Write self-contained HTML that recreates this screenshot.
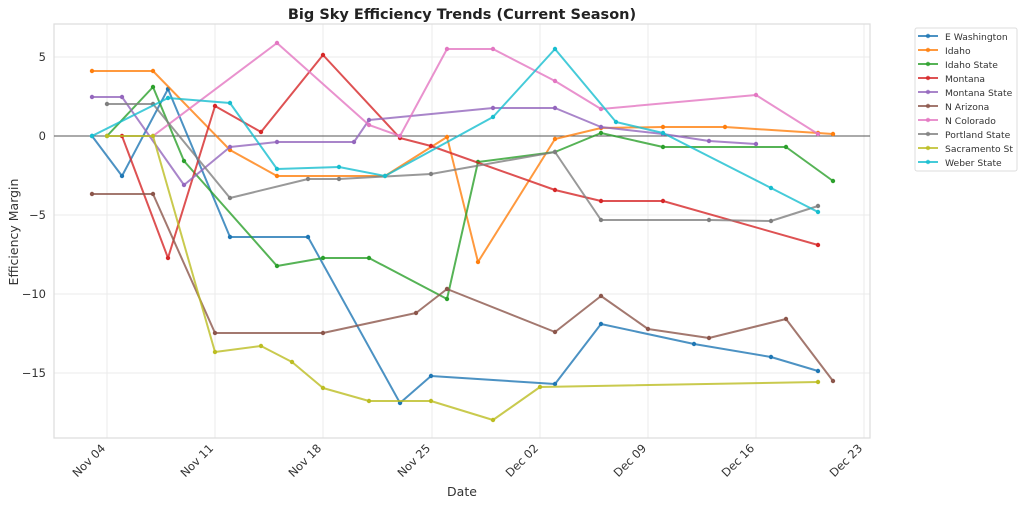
<!DOCTYPE html>
<html><head><meta charset="utf-8"><style>
body{margin:0;background:#fff;}
svg{display:block;font-family:"DejaVu Sans","Liberation Sans",sans-serif;}
</style></head><body>
<svg width="1024" height="506" viewBox="0 0 1024 506" xmlns="http://www.w3.org/2000/svg">
<defs>
<marker id="m0" markerWidth="6" markerHeight="6" refX="3" refY="3" markerUnits="userSpaceOnUse"><circle cx="3" cy="3" r="2.2" fill="#1f77b4"/></marker>
<marker id="m1" markerWidth="6" markerHeight="6" refX="3" refY="3" markerUnits="userSpaceOnUse"><circle cx="3" cy="3" r="2.2" fill="#ff7f0e"/></marker>
<marker id="m2" markerWidth="6" markerHeight="6" refX="3" refY="3" markerUnits="userSpaceOnUse"><circle cx="3" cy="3" r="2.2" fill="#2ca02c"/></marker>
<marker id="m3" markerWidth="6" markerHeight="6" refX="3" refY="3" markerUnits="userSpaceOnUse"><circle cx="3" cy="3" r="2.2" fill="#d62728"/></marker>
<marker id="m4" markerWidth="6" markerHeight="6" refX="3" refY="3" markerUnits="userSpaceOnUse"><circle cx="3" cy="3" r="2.2" fill="#9467bd"/></marker>
<marker id="m5" markerWidth="6" markerHeight="6" refX="3" refY="3" markerUnits="userSpaceOnUse"><circle cx="3" cy="3" r="2.2" fill="#8c564b"/></marker>
<marker id="m6" markerWidth="6" markerHeight="6" refX="3" refY="3" markerUnits="userSpaceOnUse"><circle cx="3" cy="3" r="2.2" fill="#e377c2"/></marker>
<marker id="m7" markerWidth="6" markerHeight="6" refX="3" refY="3" markerUnits="userSpaceOnUse"><circle cx="3" cy="3" r="2.2" fill="#7f7f7f"/></marker>
<marker id="m8" markerWidth="6" markerHeight="6" refX="3" refY="3" markerUnits="userSpaceOnUse"><circle cx="3" cy="3" r="2.2" fill="#bcbd22"/></marker>
<marker id="m9" markerWidth="6" markerHeight="6" refX="3" refY="3" markerUnits="userSpaceOnUse"><circle cx="3" cy="3" r="2.2" fill="#17becf"/></marker>
</defs>
<rect width="1024" height="506" fill="#fff"/>
<g stroke="#ebebeb" stroke-width="1">
<line x1="107" y1="24" x2="107" y2="438"/><line x1="215" y1="24" x2="215" y2="438"/>
<line x1="323" y1="24" x2="323" y2="438"/><line x1="432" y1="24" x2="432" y2="438"/>
<line x1="540" y1="24" x2="540" y2="438"/><line x1="648" y1="24" x2="648" y2="438"/>
<line x1="756" y1="24" x2="756" y2="438"/><line x1="864" y1="24" x2="864" y2="438"/>
<line x1="54" y1="57" x2="870" y2="57"/><line x1="54" y1="215" x2="870" y2="215"/>
<line x1="54" y1="294" x2="870" y2="294"/><line x1="54" y1="373" x2="870" y2="373"/>
</g>
<rect x="54" y="24" width="816" height="414" fill="none" stroke="#dcdcdc" stroke-width="1.2"/>
<line x1="54" y1="136" x2="870" y2="136" stroke="#555" stroke-width="1"/>
<g font-size="11.5" fill="#333" text-anchor="end">
<text x="46" y="61">5</text><text x="46" y="140">0</text><text x="46" y="219">−5</text>
<text x="46" y="298">−10</text><text x="46" y="377">−15</text>
</g>
<g font-size="11.5" fill="#333" text-anchor="end">
<text transform="translate(106,449) rotate(-45)">Nov 04</text>
<text transform="translate(214,449) rotate(-45)">Nov 11</text>
<text transform="translate(322,449) rotate(-45)">Nov 18</text>
<text transform="translate(431,449) rotate(-45)">Nov 25</text>
<text transform="translate(539,449) rotate(-45)">Dec 02</text>
<text transform="translate(647,449) rotate(-45)">Dec 09</text>
<text transform="translate(755,449) rotate(-45)">Dec 16</text>
<text transform="translate(863,449) rotate(-45)">Dec 23</text>
</g>
<text x="462" y="496" font-size="12.5" fill="#333" text-anchor="middle">Date</text>
<text transform="translate(18,232) rotate(-90)" font-size="12.5" fill="#333" text-anchor="middle">Efficiency Margin</text>
<text x="462" y="19" font-size="14.5" font-weight="bold" fill="#222" text-anchor="middle">Big Sky Efficiency Trends (Current Season)</text>
<g fill="none" stroke-width="2" stroke-opacity="0.8" stroke-linejoin="round">
<polyline stroke="#1f77b4" marker-start="url(#m0)" marker-mid="url(#m0)" marker-end="url(#m0)" points="92,136 122,176 168,89 230,237 308,237 400,403 431,376 555,384 601,324 694,344 771,357 818,371"/>
<polyline stroke="#ff7f0e" marker-start="url(#m1)" marker-mid="url(#m1)" marker-end="url(#m1)" points="92,71 153,71 230,150 277,176 385,176 447,137 478,262 555,139 601,128 663,127 725,127 818,133 833,134"/>
<polyline stroke="#2ca02c" marker-start="url(#m2)" marker-mid="url(#m2)" marker-end="url(#m2)" points="107,136 153,87 184,161 277,266 323,258 369,258 447,299 478,162 555,152 601,133 663,147 786,147 833,181"/>
<polyline stroke="#d62728" marker-start="url(#m3)" marker-mid="url(#m3)" marker-end="url(#m3)" points="122,136 168,258 215,106 261,132 323,55 400,138 431,146 555,190 601,201 663,201 818,245"/>
<polyline stroke="#9467bd" marker-start="url(#m4)" marker-mid="url(#m4)" marker-end="url(#m4)" points="92,97 122,97 184,185 230,147 277,142 354,142 369,120 493,108 555,108 601,127 663,134 709,141 756,144"/>
<polyline stroke="#8c564b" marker-start="url(#m5)" marker-mid="url(#m5)" marker-end="url(#m5)" points="92,194 153,194 215,333 323,333 416,313 447,289 555,332 601,296 648,329 709,338 786,319 833,381"/>
<polyline stroke="#e377c2" marker-start="url(#m6)" marker-mid="url(#m6)" marker-end="url(#m6)" points="153,136 277,43 369,125 400,136 447,49 493,49 555,81 601,109 756,95 818,134"/>
<polyline stroke="#7f7f7f" marker-start="url(#m7)" marker-mid="url(#m7)" marker-end="url(#m7)" points="107,104 153,104 230,198 308,179 339,179 431,174 555,152 601,220 709,220 771,221 818,206"/>
<polyline stroke="#bcbd22" marker-start="url(#m8)" marker-mid="url(#m8)" marker-end="url(#m8)" points="107,136 153,136 215,352 261,346 292,362 323,388 369,401 431,401 493,420 540,387 818,382"/>
<polyline stroke="#17becf" marker-start="url(#m9)" marker-mid="url(#m9)" marker-end="url(#m9)" points="92,136 168,98 230,103 277,169 339,167 385,176 493,117 555,49 616,122 663,133 771,188 818,212"/>
</g>
<rect x="915" y="28" width="102" height="143" rx="2" fill="#fff" stroke="#ddd"/>
<g stroke-width="2" stroke-opacity="0.8">
<line x1="918" y1="36" x2="938" y2="36" stroke="#1f77b4" marker-mid="url(#m0)"/>
<line x1="918" y1="50" x2="938" y2="50" stroke="#ff7f0e"/>
<line x1="918" y1="64" x2="938" y2="64" stroke="#2ca02c"/>
<line x1="918" y1="78" x2="938" y2="78" stroke="#d62728"/>
<line x1="918" y1="92" x2="938" y2="92" stroke="#9467bd"/>
<line x1="918" y1="106" x2="938" y2="106" stroke="#8c564b"/>
<line x1="918" y1="120" x2="938" y2="120" stroke="#e377c2"/>
<line x1="918" y1="134" x2="938" y2="134" stroke="#7f7f7f"/>
<line x1="918" y1="148" x2="938" y2="148" stroke="#bcbd22"/>
<line x1="918" y1="162" x2="938" y2="162" stroke="#17becf"/>
</g>
<g fill-opacity="0.8">
<circle cx="928" cy="36" r="2.2" fill="#1f77b4"/><circle cx="928" cy="50" r="2.2" fill="#ff7f0e"/>
<circle cx="928" cy="64" r="2.2" fill="#2ca02c"/><circle cx="928" cy="78" r="2.2" fill="#d62728"/>
<circle cx="928" cy="92" r="2.2" fill="#9467bd"/><circle cx="928" cy="106" r="2.2" fill="#8c564b"/>
<circle cx="928" cy="120" r="2.2" fill="#e377c2"/><circle cx="928" cy="134" r="2.2" fill="#7f7f7f"/>
<circle cx="928" cy="148" r="2.2" fill="#bcbd22"/><circle cx="928" cy="162" r="2.2" fill="#17becf"/>
</g>
<g font-size="9.2" fill="#333">
<text x="945" y="40">E Washington</text><text x="945" y="54">Idaho</text>
<text x="945" y="68">Idaho State</text><text x="945" y="82">Montana</text>
<text x="945" y="96">Montana State</text><text x="945" y="110">N Arizona</text>
<text x="945" y="124">N Colorado</text><text x="945" y="138">Portland State</text>
<text x="945" y="152">Sacramento St</text><text x="945" y="166">Weber State</text>
</g>
</svg>
</body></html>
